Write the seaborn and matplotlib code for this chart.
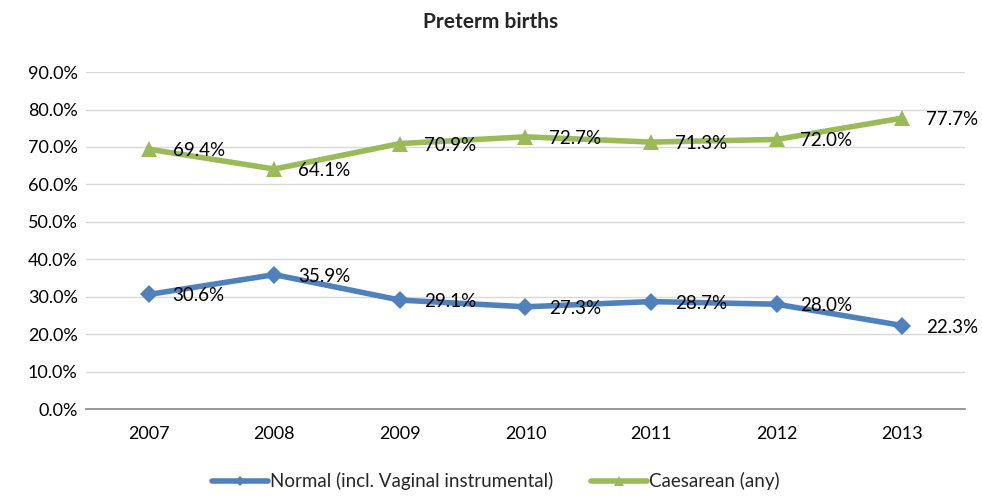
import pandas as pd
import seaborn as sns
import matplotlib.pyplot as plt
from matplotlib.ticker import PercentFormatter

# Data
years = [2007, 2008, 2009, 2010, 2011, 2012, 2013]
normal = [30.6, 35.9, 29.1, 27.3, 28.7, 28.0, 22.3]
caesarean = [69.4, 64.1, 70.9, 72.7, 71.3, 72.0, 77.7]
series_names = ['Normal (incl. Vaginal instrumental)', 'Caesarean (any)']

df = pd.DataFrame({'year': years * 2,
                   'value': normal + caesarean,
                   'type': [series_names[0]] * len(years) + [series_names[1]] * len(years)})

sns.set_style('white')
plt.rcParams['font.family'] = ['Lato', 'DejaVu Sans']

fig = plt.figure(figsize=(9.82, 4.97), dpi=100)
ax = fig.add_axes([0.0876, 0.177, 0.895, 0.678])

colors = {series_names[0]: '#4F81BD', series_names[1]: '#9BBB59'}
markers = {series_names[0]: 'D', series_names[1]: '^'}
sizes = {series_names[0]: 9, series_names[1]: 11}

for name in series_names:
    sub = df[df['type'] == name]
    sns.lineplot(data=sub, x='year', y='value', ax=ax, color=colors[name],
                 marker=markers[name], markersize=sizes[name], markeredgewidth=0,
                 linewidth=4, label=name, sort=False)
    for x, y in zip(sub['year'], sub['value']):
        ax.text(x + 0.19, y - 0.4, f'{y:.1f}%', fontsize=13.5, va='center', ha='left', color='black')

ax.set_xlim(2006.5, 2013.5)
ax.set_ylim(0, 90)
ax.set_yticks(range(0, 91, 10))
ax.yaxis.set_major_formatter(PercentFormatter(decimals=1))
ax.set_xticks(years)
ax.set_xlabel('')
ax.set_ylabel('')
ax.grid(axis='y', color='#D9D9D9', linewidth=1)
ax.tick_params(axis='both', labelsize=13, length=0, colors='black')
ax.tick_params(axis='x', pad=12)
ax.tick_params(axis='y', pad=6)
for s in ['top', 'right', 'left']:
    ax.spines[s].set_visible(False)
ax.spines['bottom'].set_color('#868686')
ax.spines['bottom'].set_linewidth(1.2)

fig.suptitle('Preterm births', fontsize=15, fontweight='bold', y=0.975)

handles, labels = ax.get_legend_handles_labels()
ax.get_legend().remove()
fig.legend(handles, labels, loc='lower center', bbox_to_anchor=(0.505, -0.02), ncol=2,
           frameon=False, fontsize=13.5, handlelength=3.0, handletextpad=0.1,
           columnspacing=2.0, markerscale=0.6)

plt.savefig('out.png', dpi=100)
